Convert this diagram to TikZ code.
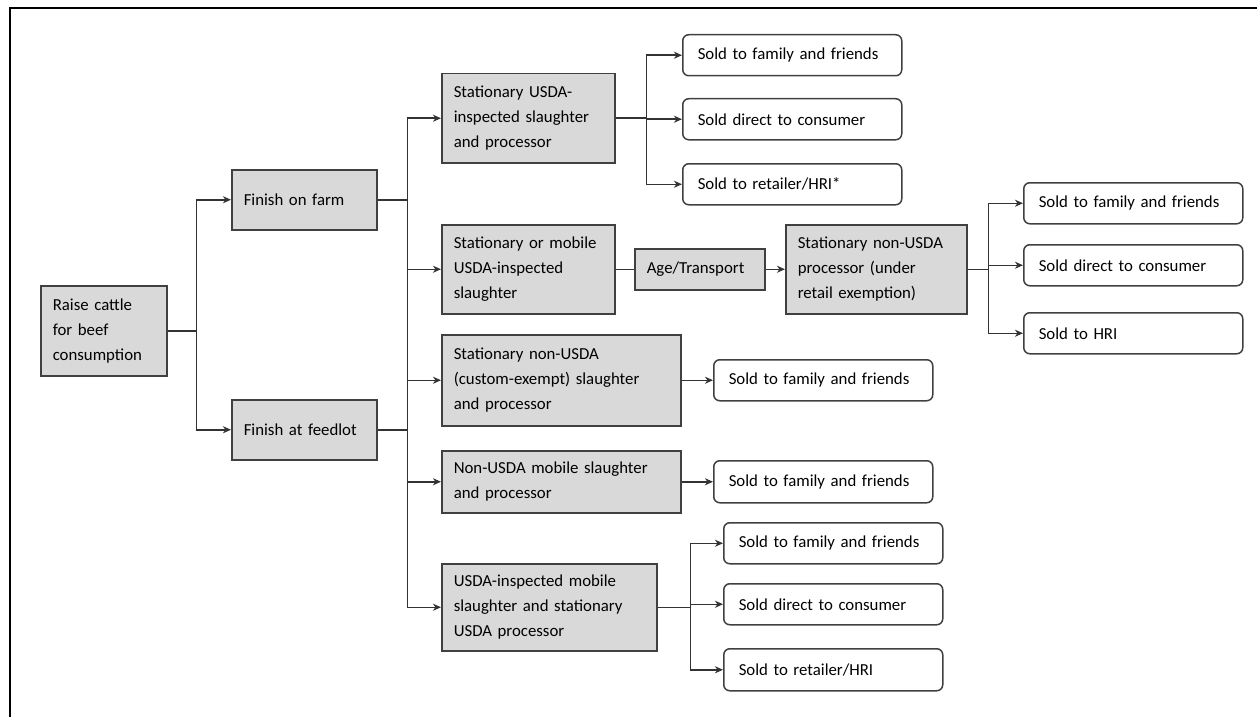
\documentclass[tikz,border=0pt]{standalone}
\usepackage{fontspec}
\setmainfont{Carlito}
\usetikzlibrary{arrows.meta}
\definecolor{procgray}{HTML}{D9D9D9}
\definecolor{edgegray}{HTML}{404040}
\begin{document}
\begin{tikzpicture}[x=0.5pt, y=-0.5pt,
        every node/.style={font=\fontsize{8.4pt}{12.5pt}\selectfont, anchor=north west, align=left, inner ysep=0pt},
        proc/.style={draw=edgegray, fill=procgray, line width=0.75pt, inner xsep=6pt},
        sold/.style={draw=edgegray, fill=white, rounded corners=3pt, line width=0.75pt, inner xsep=7.5pt, text width=94.5pt, minimum height=20.5pt},
        link/.style={draw=black!80, line width=0.75pt},
        arr/.style={link, -{Stealth[length=4pt, width=3.5pt, inset=1.2pt]}}]
        \useasboundingbox (0,0) rectangle (1257,717);
        \draw[line width=1pt] (10,717) -- (10,8) -- (1257,8);

        \node[proc, text width=51pt, minimum height=45pt] (raise) at (40,285) {Raise cattle\\for beef\\consumption};
        \node[proc, text width=60.5pt, minimum height=30pt] (farm) at (231,169) {Finish on farm};
        \node[proc, text width=60.5pt, minimum height=30pt] (feedlot) at (231,399) {Finish at feedlot};

        \node[proc, text width=74.5pt, minimum height=44.5pt] (susda) at (441,73) {Stationary USDA-\\inspected slaughter\\and processor};
        \node[proc, text width=74.5pt, minimum height=44.5pt] (smob) at (441,224) {Stationary or mobile\\USDA-inspected\\slaughter};
        \node[proc, text width=53pt, minimum height=20.5pt] (age) at (634,248) {Age/Transport};
        \node[proc, text width=78.5pt, minimum height=44.5pt] (retail) at (785,224) {Stationary non-USDA\\processor (under\\retail exemption)};
        \node[proc, text width=107.5pt, minimum height=45.5pt] (custom) at (441,334) {Stationary non-USDA\\(custom-exempt) slaughter\\and processor};
        \node[proc, text width=107.5pt, minimum height=31pt] (nmob) at (441,450) {Non-USDA mobile slaughter\\and processor};
        \node[proc, text width=95.5pt, minimum height=43.5pt] (umob) at (441,563) {USDA-inspected mobile\\slaughter and stationary\\USDA processor};

        \node[sold] (a1) at (682,34) {Sold to family and friends};
        \node[sold] (a2) at (682,98) {Sold direct to consumer};
        \node[sold] (a3) at (682,163) {Sold to retailer/HRI*};
        \node[sold] (b1) at (1023,182) {Sold to family and friends};
        \node[sold] (b2) at (1023,244) {Sold direct to consumer};
        \node[sold] (b3) at (1023,312) {Sold to HRI};
        \node[sold] (c1) at (713,359) {Sold to family and friends};
        \node[sold, minimum height=21pt] (d1) at (713,460) {Sold to family and friends};
        \node[sold] (e1) at (723,522) {Sold to family and friends};
        \node[sold] (e2) at (723,583) {Sold direct to consumer};
        \node[sold, minimum height=21pt] (e3) at (723,648) {Sold to retailer/HRI};

        % finishing
        \draw[link] (raise.east) -- ++(29,0) coordinate (rj);
        \draw[arr] (rj) |- (farm.west);
        \draw[arr] (rj) |- (feedlot.west);

        % slaughter options
        \draw[link] (farm.east) -- ++(30,0) coordinate (fj);
        \draw[link] (feedlot.east) -- ++(30,0) coordinate (lj);
        \draw[link] (fj) -- (lj);
        \draw[arr] (fj) |- (susda.west);
        \draw[arr] (fj) |- (smob.west);
        \draw[arr] (lj) |- (custom.west);
        \draw[arr] (lj) |- (nmob.west);
        \draw[arr] (lj) |- (umob.west);

        % sales
        \draw[link] (susda.east) -- ++(31,0) coordinate (sj);
        \foreach \s in {a1,a2,a3}
            \draw[arr] (sj) |- (\s.west);
        \draw[link] (smob.east) -- (age.west);
        \draw[arr] (age.east) -- (retail.west);
        \draw[link] (retail.east) -- ++(21,0) coordinate (tj);
        \foreach \s in {b1,b2,b3}
            \draw[arr] (tj) |- (\s.west);
        \draw[arr] (custom.east) -- (c1.west);
        \draw[arr] (nmob.east) -- (d1.west);
        \draw[link] (umob.east) -- ++(33,0) coordinate (uj);
        \foreach \s in {e1,e2,e3}
            \draw[arr] (uj) |- (\s.west);
\end{tikzpicture}
\end{document}
